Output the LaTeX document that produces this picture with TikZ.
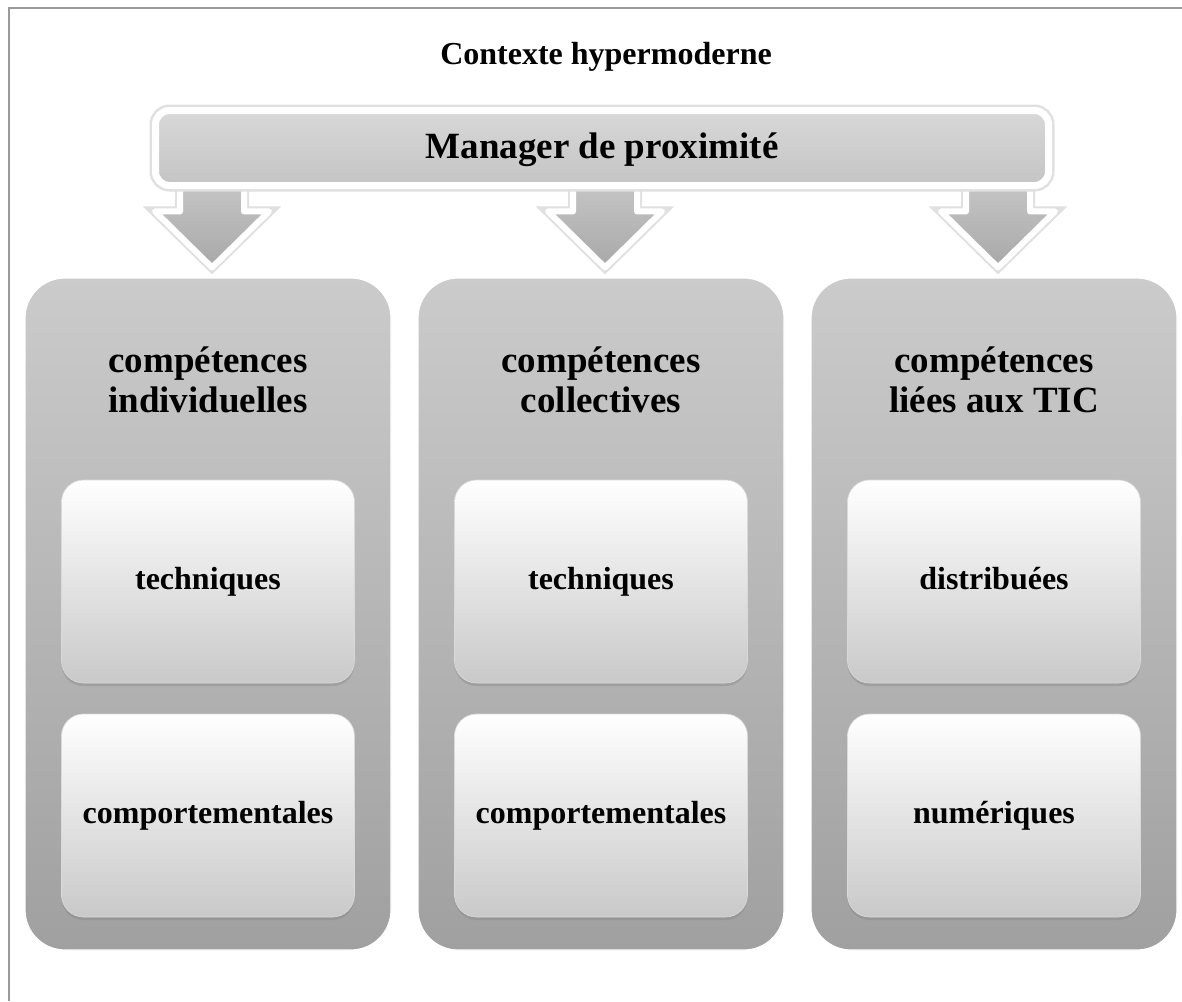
\documentclass[tikz,border=0pt]{standalone}
\usepackage{fontspec}
\setmainfont{Liberation Serif}
\usetikzlibrary{shadows,calc}
\definecolor{colTop}{HTML}{CBCBCB}
\definecolor{colBot}{HTML}{A0A0A0}
\definecolor{boxTop}{HTML}{FFFFFF}
\definecolor{boxBot}{HTML}{C9C9C9}
\definecolor{barTop}{HTML}{D8D8D8}
\definecolor{barBot}{HTML}{C4C4C4}
\definecolor{arrTop}{HTML}{C6C6C6}
\definecolor{arrBot}{HTML}{A8A8A8}
\definecolor{frameC}{HTML}{9A9A9A}
\pgfdeclarelayer{back}
\pgfdeclarelayer{bg}
\pgfsetlayers{back,bg,main}
\begin{document}
\begin{tikzpicture}[x=1pt,y=-1pt,
  colbox/.style={rounded corners=40pt, top color=colTop, bottom color=colBot, draw=white, line width=1.2pt, minimum width=366pt, minimum height=672pt, inner sep=0pt},
  subbox/.style={rounded corners=22pt, top color=boxTop, bottom color=boxBot, draw=black!15, line width=0.6pt, minimum width=293pt, minimum height=203pt, inner sep=0pt, text height=23pt, text depth=7pt, font=\fontsize{32}{34}\selectfont\bfseries, drop shadow={opacity=0.35, shadow xshift=0pt, shadow yshift=-3pt}},
  hdr/.style={font=\fontsize{37}{40}\selectfont\bfseries, align=center, inner sep=0pt},
  bar/.style={rounded corners=14pt, top color=barTop, bottom color=barBot, draw=white, line width=7pt, minimum width=893pt, minimum height=75pt, inner sep=0pt, text height=26pt, text depth=6pt, font=\fontsize{37}{40}\selectfont\bfseries, preaction={draw=black!12, line width=12pt}},
  blockarrow/.style={top color=arrTop, bottom color=arrBot, draw=white, line width=6pt, line join=round, preaction={draw=black!12, line width=10pt}},
  frameline/.style={draw=frameC, line width=2pt},
  titletext/.style={font=\fontsize{32}{34}\selectfont\bfseries, inner sep=0pt}
]
\useasboundingbox (0,0) rectangle (1182,1001);
\begin{pgfonlayer}{back}
\fill[white] (0,0) rectangle (1182,1001);
\end{pgfonlayer}
\draw[frameline] (9,1001) -- (9,8) -- (1182,8);

\node[titletext, anchor=base] (title) at (606,64) {Contexte hypermoderne};

\node[colbox] (c1) at (208,614) {};
\node[colbox] (c2) at (601,614) {};
\node[colbox] (c3) at (994,614) {};

\node[hdr] (h1) at (208,380) {compétences\\individuelles};
\node[hdr] (h2) at (601,380) {compétences\\collectives};
\node[hdr] (h3) at (994,380) {compétences\\liées aux TIC};

\node[subbox] (t1) at (208,581.5) {techniques};
\node[subbox] (b1) at (208,815.5) {comportementales};
\node[subbox] (t2) at (601,581.5) {techniques};
\node[subbox] (b2) at (601,815.5) {comportementales};
\node[subbox] (t3) at (994,581.5) {distribuées};
\node[subbox] (b3) at (994,815.5) {numériques};

\node[bar] (mgr) at (602,148) {Manager de proximité};

\begin{pgfonlayer}{bg}
\foreach \c in {c1,c2,c3} {
  \draw[blockarrow] let \p1=($(\c.north)+(4,0)$), \p2=(mgr.south) in
    (\x1-32pt,\y2+8pt) -- (\x1+32pt,\y2+8pt) -- (\x1+32pt,\y1+66pt) -- (\x1+57pt,\y1+66pt)
    -- (\x1,\y1+10pt) -- (\x1-57pt,\y1+66pt) -- (\x1-32pt,\y1+66pt) -- cycle;
}
\end{pgfonlayer}
\end{tikzpicture}
\end{document}
